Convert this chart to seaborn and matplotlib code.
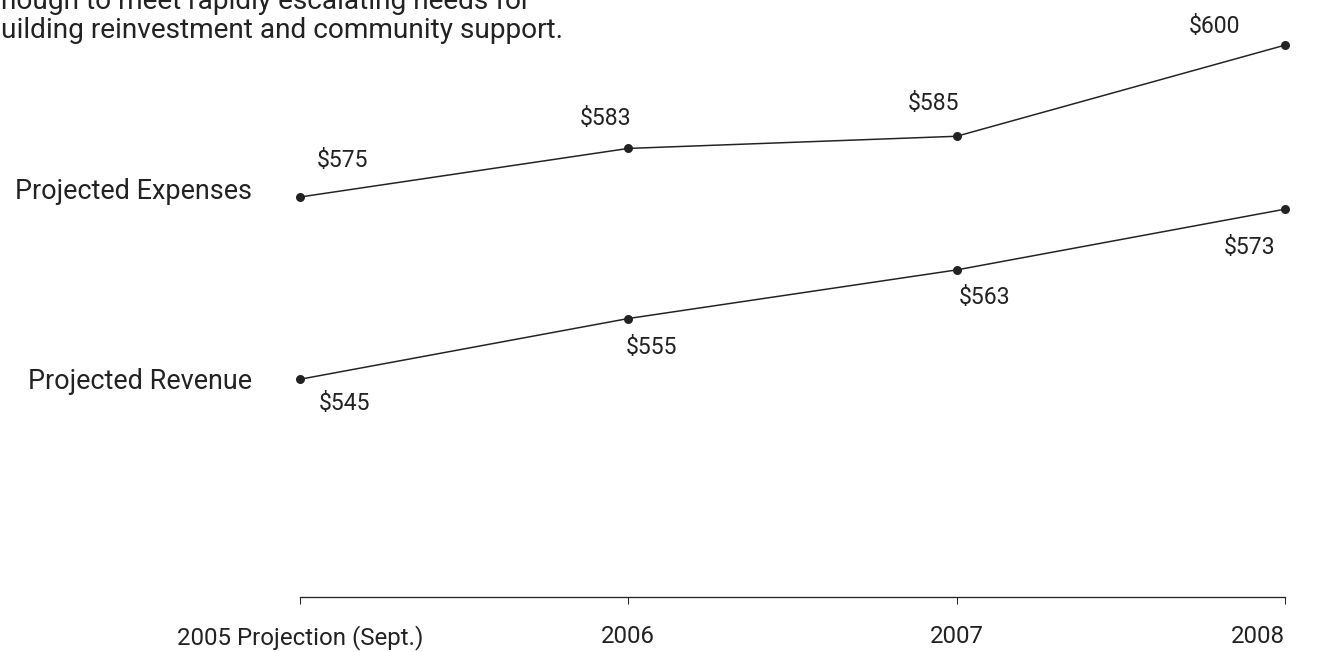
import matplotlib
matplotlib.use("Agg")
import matplotlib.pyplot as plt
import seaborn as sns
import pandas as pd

# Budget projections (thousands of dollars)
periods = ["2005 Projection (Sept.)", "2006", "2007", "2008"]
series_names = ["Projected Expenses", "Projected Revenue"]
expenses = [575, 583, 585, 600]
revenue = [545, 555, 563, 573]

# label offsets (points) for each value label
expense_offsets = [(42, 37), (-23, 30), (-23, 33), (-70, 19)]
revenue_offsets = [(45, -24), (23, -29), (28, -28), (-35, -38)]

sns.set_style("white")
plt.rcParams["font.family"] = ["Roboto", "DejaVu Sans"]
INK = "#222222"

df = pd.DataFrame({
    "period": list(range(len(periods))) * 2,
    "value": expenses + revenue,
    "series": [series_names[0]] * len(expenses) + [series_names[1]] * len(revenue),
})

fig = plt.figure(figsize=(1324 / 72, 652 / 72), dpi=72)
ax = fig.add_axes([300 / 1324, 1 - 597 / 652, (1285 - 300) / 1324, 597 / 652])

sns.lineplot(data=df, x="period", y="value", hue="series",
             palette=[INK, INK], marker="o", markersize=9, markeredgewidth=0,
             linewidth=1.5, legend=False, ax=ax)
for ln in ax.lines:
    ln.set_clip_on(False)

ax.set_xlim(0, 3)
ax.set_ylim(509.16, 607.43)

for vals, offs in ((expenses, expense_offsets), (revenue, revenue_offsets)):
    for i, (v, (dx, dy)) in enumerate(zip(vals, offs)):
        ax.annotate(f"${v}", (i, v), xytext=(dx, dy), textcoords="offset points",
                    ha="center", va="center", fontsize=23, color=INK)

# series names to the left of the first point
name_offsets = [(-48, 6), (-48, -2)]
for name, vals, (dx, dy) in zip(series_names, (expenses, revenue), name_offsets):
    ax.annotate(name, (0, vals[0]), xytext=(dx, dy),
                textcoords="offset points", ha="right", va="center",
                fontsize=27, color=INK, annotation_clip=False)

for s in ("top", "right", "left"):
    ax.spines[s].set_visible(False)
ax.spines["bottom"].set_color(INK)
ax.spines["bottom"].set_linewidth(1.3)
ax.set_yticks([])
ax.set_xticks(range(len(periods)))
ax.set_xticklabels(periods, fontsize=24, color=INK)
ax.tick_params(axis="x", bottom=True, direction="out", length=7, width=1,
               color=INK, pad=21)
ax.get_xticklabels()[-1].set_ha("right")
ax.set_xlabel("")
ax.set_ylabel("")

# tail of the introductory paragraph above the chart
fig.text(1 / 1324, 1 - 1 / 652, "nough to meet rapidly escalating needs for",
         ha="left", va="center", fontsize=28, color=INK)
fig.text(1 / 1324, 1 - 31 / 652, "uilding reinvestment and community support.",
         ha="left", va="center", fontsize=28, color=INK)

fig.savefig("out.png", dpi=72, facecolor="white")
